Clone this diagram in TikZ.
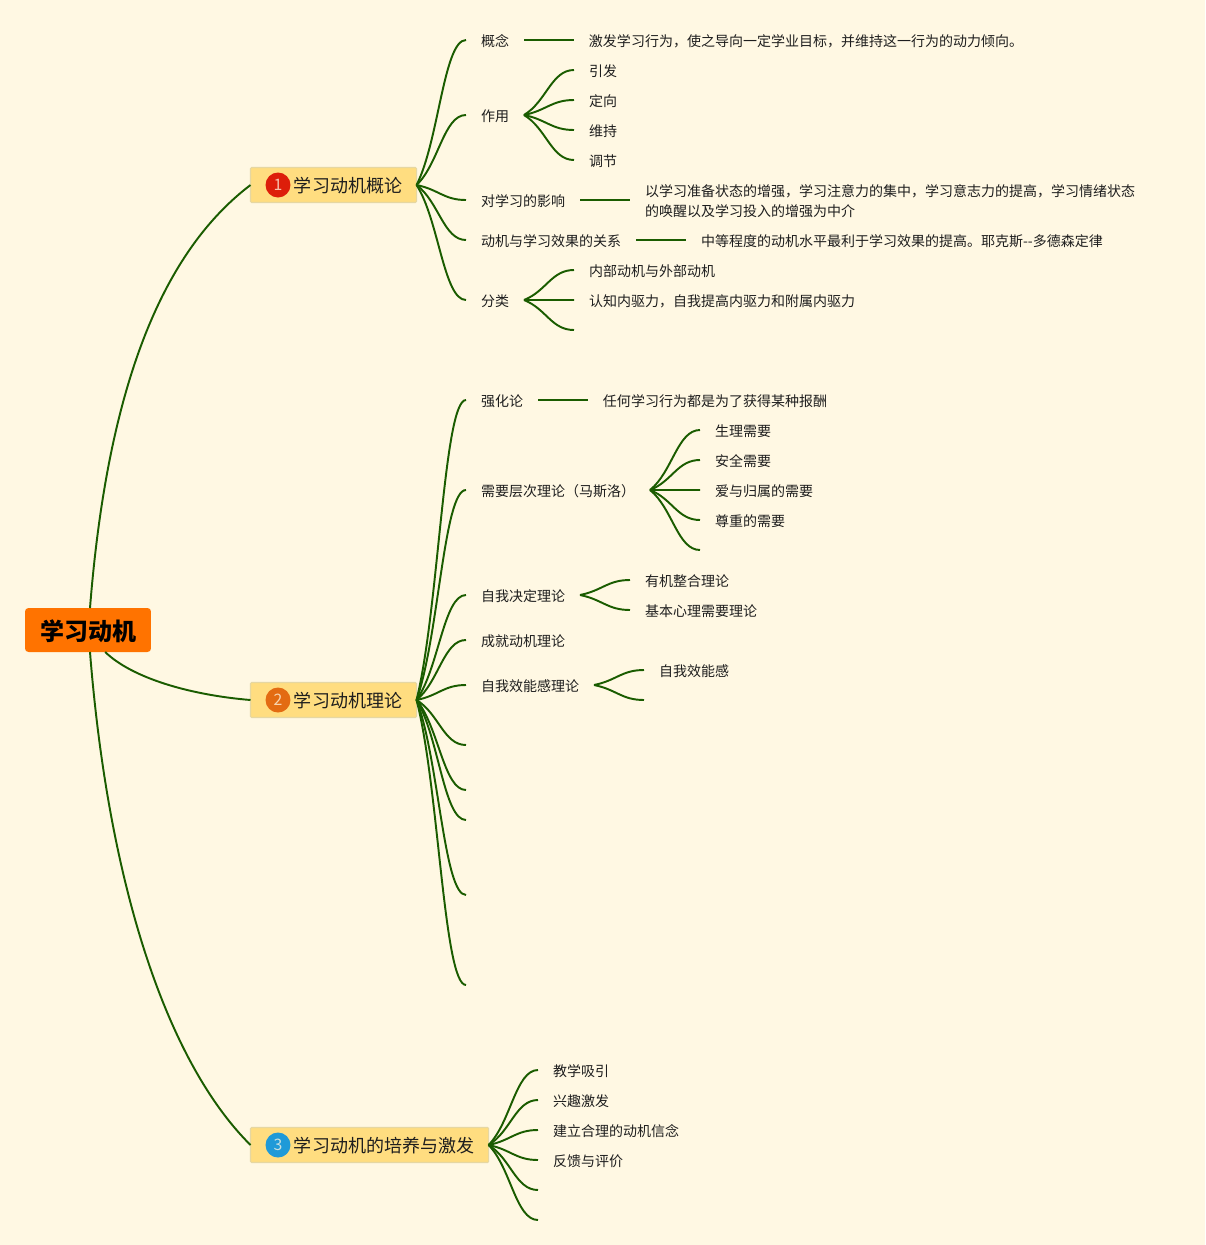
\documentclass[tikz,border=0pt]{standalone}
\usepackage{fontspec}
\setmainfont{Noto Sans CJK SC}
\usetikzlibrary{calc,positioning}
\definecolor{pagebg}{HTML}{FFF8E3}
\definecolor{rootfill}{HTML}{FF7300}
\definecolor{topicfill}{HTML}{FFDD80}
\definecolor{topicline}{HTML}{E6D7A2}
\definecolor{linkgreen}{HTML}{1A5C00}
\definecolor{inktext}{HTML}{1E1E1E}
\definecolor{badgered}{HTML}{DD1E0A}
\definecolor{badgeorange}{HTML}{E36B12}
\definecolor{badgeblue}{HTML}{1F9AD8}
\newcommand{\branch}[2]{%
  \path ($(#1)!0.45!(#2)$) coordinate (nearpt) ($(#1)!0.55!(#2)$) coordinate (farpt) ($(#1)!0.3!(#2)$) coordinate (startpt);
  \draw[link] (#1) .. controls (nearpt |- startpt) and (farpt |- #2) .. (#2);}

\begin{document}
\begin{tikzpicture}[x=0.02cm, y=-0.02cm, outer sep=0pt,
  root/.style={fill=rootfill, rounded corners=2pt, minimum width=2.52cm, minimum height=0.88cm, inner sep=0pt, text height=13.5pt, text depth=1.5pt, font=\fontsize{13.66}{16}\bfseries\selectfont, text=black},
  topic/.style={draw=topicline, fill=topicfill, anchor=west, line width=0.6pt, rounded corners=0.6pt, minimum height=0.7cm, inner xsep=0.29cm, inner ysep=0pt, text height=10.5pt, text depth=1.5pt, font=\fontsize{10.25}{13}\selectfont, text=inktext},
  badge/.style={circle, minimum size=0.5cm, inner sep=0pt, font=\fontsize{9}{11}\selectfont, text=pagebg, text opacity=0.75},
  leaf/.style={anchor=west, inner xsep=0.3cm, inner ysep=0pt, text height=9.2pt, text depth=1.6pt, font=\fontsize{7.97}{11.4}\selectfont, text=inktext},
  para/.style={anchor=west, align=left, inner xsep=0.3cm, inner ysep=0pt, yshift=-0.02cm, font=\fontsize{7.97}{11.4}\selectfont, text=inktext},
  link/.style={draw=linkgreen, line width=1.1pt},
  node distance=1cm]
  \fill[pagebg] (0,0) rectangle (1205,1245);
  \useasboundingbox (0,0) rectangle (1205,1245);
  % centre and the three topics
  \node[root] (root) at (88,630) {学习动机};
  \node[topic] (topicA) at (250.5,185) {\hspace*{0.58cm}学习动机概论};
  \node[topic] (topicB) at (250.5,700) {\hspace*{0.58cm}学习动机理论};
  \node[topic] (topicC) at (250.5,1145) {\hspace*{0.58cm}学习动机的培养与激发};
  \node[badge, fill=badgered] (badgeA) at ($(topicA.west)+(27.5,0)$) {1};
  \node[badge, fill=badgeorange] (badgeB) at ($(topicB.west)+(27.5,0)$) {2};
  \node[badge, fill=badgeblue] (badgeC) at ($(topicC.west)+(27.5,0)$) {3};
  \draw[link] (root.north) ++(2,0) .. controls (108,380) and (165,250) .. (topicA.west);
  \draw[link] (root.-52) .. controls (132,678) and (190,695) .. (topicB.west);
  \draw[link] (root.south) ++(2,0) .. controls (108,880) and (165,1060) .. (topicC.west);
  % first topic
  \node[leaf] (concept) at (466,40) {概念};
  \node[leaf, right=of concept] (conceptText) {激发学习行为，使之导向一定学业目标，并维持这一行为的动力倾向。};
  \node[leaf] (role) at (466,115) {作用};
  \node[leaf] (roleA) at (574,70) {引发};
  \node[leaf] (roleB) at (574,100) {定向};
  \node[leaf] (roleC) at (574,130) {维持};
  \node[leaf] (roleD) at (574,160) {调节};
  \node[leaf] (influence) at (466,200) {对学习的影响};
  \node[para] (influenceText) at (630,200) {以学习准备状态的增强，学习注意力的集中，学习意志力的提高，学习情绪状态\\的唤醒以及学习投入的增强为中介};
  \node[leaf] (relation) at (466,240) {动机与学习效果的关系};
  \node[leaf, right=of relation] (relationText) {中等程度的动机水平最利于学习效果的提高。耶克斯-{}-多德森定律};
  \node[leaf] (kinds) at (466,300) {分类};
  \node[leaf] (kindsA) at (574,270) {内部动机与外部动机};
  \node[leaf] (kindsB) at (574,300) {认知内驱力，自我提高内驱力和附属内驱力};
  \coordinate (kindsC) at (574,330);
  % second topic
  \node[leaf] (reinforce) at (466,400) {强化论};
  \node[leaf, right=of reinforce] (reinforceText) {任何学习行为都是为了获得某种报酬};
  \node[leaf] (needs) at (466,490) {需要层次理论（马斯洛）};
  \node[leaf] (needsA) at (700,430) {生理需要};
  \node[leaf] (needsB) at (700,460) {安全需要};
  \node[leaf] (needsC) at (700,490) {爱与归属的需要};
  \node[leaf] (needsD) at (700,520) {尊重的需要};
  \coordinate (needsE) at (700,550);
  \node[leaf] (selfdet) at (466,595) {自我决定理论};
  \node[leaf] (selfdetA) at (630,580) {有机整合理论};
  \node[leaf] (selfdetB) at (630,610) {基本心理需要理论};
  \node[leaf] (achieve) at (466,640) {成就动机理论};
  \node[leaf] (efficacy) at (466,685) {自我效能感理论};
  \node[leaf] (efficacyA) at (644,670) {自我效能感};
  \coordinate (efficacyB) at (644,700);
  \coordinate (blankA) at (466,745);
  \coordinate (blankB) at (466,790);
  \coordinate (blankC) at (466,820);
  \coordinate (blankD) at (466,895);
  \coordinate (blankE) at (466,985);
  % third topic
  \node[leaf] (fosterA) at (538,1070) {教学吸引};
  \node[leaf] (fosterB) at (538,1100) {兴趣激发};
  \node[leaf] (fosterC) at (538,1130) {建立合理的动机信念};
  \node[leaf] (fosterD) at (538,1160) {反馈与评价};
  \coordinate (fosterE) at (538,1190);
  \coordinate (fosterF) at (538,1220);
  % connectors
  \foreach \kid in {concept.west,role.west,influence.west,relation.west,kinds.west}
    \branch{topicA.east}{\kid};
  \foreach \kid in {reinforce.west,needs.west,selfdet.west,achieve.west,efficacy.west,blankA,blankB,blankC,blankD,blankE}
    \branch{topicB.east}{\kid};
  \foreach \kid in {fosterA.west,fosterB.west,fosterC.west,fosterD.west,fosterE,fosterF}
    \branch{topicC.east}{\kid};
  \foreach \kid in {roleA,roleB,roleC,roleD}
    \branch{role.east}{\kid.west};
  \foreach \kid in {kindsA.west,kindsB.west,kindsC}
    \branch{kinds.east}{\kid};
  \foreach \kid in {needsA.west,needsB.west,needsC.west,needsD.west,needsE}
    \branch{needs.east}{\kid};
  \foreach \kid in {selfdetA,selfdetB}
    \branch{selfdet.east}{\kid.west};
  \foreach \kid in {efficacyA.west,efficacyB}
    \branch{efficacy.east}{\kid};
  \draw[link] (concept) -- (conceptText);
  \draw[link] (influence.east) -- (influenceText.west |- influence.east);
  \draw[link] (relation) -- (relationText);
  \draw[link] (reinforce) -- (reinforceText);
\end{tikzpicture}
\end{document}
